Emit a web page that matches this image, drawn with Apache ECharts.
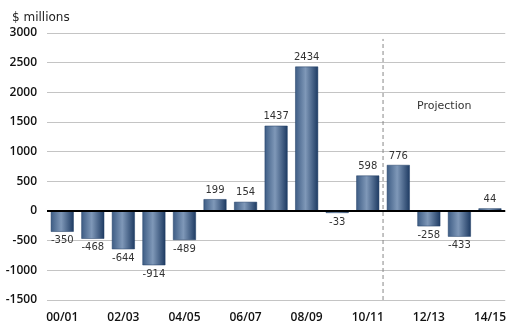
<!DOCTYPE html>
<html>
<head>
<meta charset="utf-8">
<script src="https://cdn.jsdelivr.net/npm/echarts@6/dist/echarts.min.js"></script>
<style>
html,body{margin:0;padding:0;background:#fff;}
#chart{width:509px;height:331px;}
</style>
</head>
<body>
<div id="chart"></div>
<script>
var years = ['00/01','01/02','02/03','03/04','04/05','05/06','06/07','07/08','08/09','09/10','10/11','11/12','12/13','13/14','14/15'];
var balance = [-350,-468,-644,-914,-489,199,154,1437,2434,-33,598,776,-258,-433,44];
var yTicks = [-1500,3000,500];
var projectionAt = 10.5;

var barColor = {
    type:'linear', x:0, y:0, x2:1, y2:0,
    colorStops:[
        {offset:0, color:'#3d5c84'},
        {offset:0.45, color:'#7f98b8'},
        {offset:1, color:'#1d3a62'}
    ]
};

var barData = [];
for (var i = 0; i < balance.length; i++) {
    barData.push({
        value: balance[i],
        label: {position: balance[i] < 0 ? 'bottom' : 'top'}
    });
}

var option = {
    animation:false,
    textStyle:{fontFamily:'DejaVu Sans'},
    graphic:[
        {type:'text', left:12, top:12, style:{text:'$ millions', font:'12px DejaVu Sans', fill:'#222'}},
        {type:'text', left:417, top:101, style:{text:'Projection', font:'11px DejaVu Sans', fill:'#333'}}
    ],
    grid:{left:47, right:3, top:33, bottom:31, containLabel:false},
    xAxis:[{
        type:'category',
        data:years,
        axisLine:{show:false},
        axisTick:{show:false},
        axisLabel:{interval:1, margin:12, fontSize:12, fontFamily:'Open Sans', fontWeight:600, color:'#111'}
    },{
        type:'value',
        min:-0.5, max:14.5,
        show:false
    }],
    yAxis:{
        type:'value',
        min:yTicks[0], max:yTicks[1], interval:yTicks[2],
        axisLine:{show:false},
        axisTick:{show:false},
        axisLabel:{margin:10, fontSize:12, fontFamily:'Open Sans', fontWeight:600, color:'#111', formatter:function (v) { return String(v); }},
        splitLine:{lineStyle:{color:'#c4c4c4', width:1}}
    },
    series:[{
        type:'bar',
        data:barData,
        barWidth:'75%',
        itemStyle:{color:barColor, borderColor:'#1d3a62', borderWidth:0.5},
        label:{show:true, fontSize:10, color:'#333', distance:4},
        markLine:{
            silent:true, symbol:'none', label:{show:false},
            lineStyle:{color:'#000', width:2, type:'solid'},
            data:[{yAxis:0}]
        },
        z:2
    },{
        type:'line',
        xAxisIndex:1,
        data:[[projectionAt, yTicks[0]],[projectionAt, yTicks[1] - 100]],
        symbol:'none',
        lineStyle:{color:'#888', width:1, type:[4,3]},
        z:1
    }]
};

var myChart = echarts.init(document.getElementById('chart'));
myChart.setOption(option);
</script>
</body>
</html>
